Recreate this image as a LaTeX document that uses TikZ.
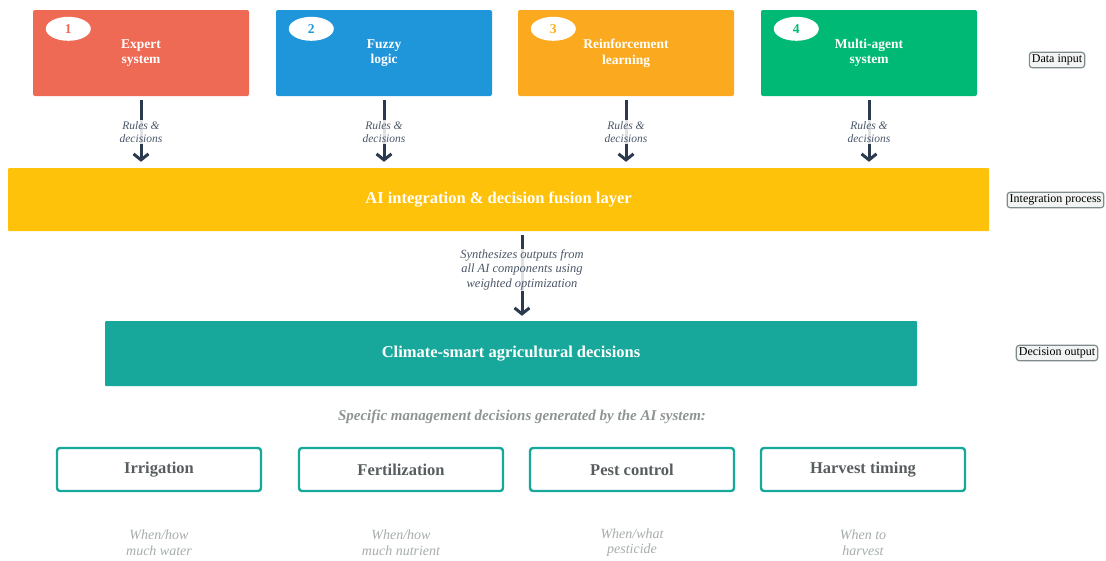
\documentclass[tikz,border=0pt]{standalone}
\usepackage{fontspec}
\setmainfont{Liberation Serif}
\usetikzlibrary{arrows.meta,positioning,shapes.geometric,calc}
\definecolor{coral}{HTML}{EE6A55}
\definecolor{azure}{HTML}{1F95DA}
\definecolor{amber}{HTML}{FBAA20}
\definecolor{jade}{HTML}{00B974}
\definecolor{gold}{HTML}{FFC20A}
\definecolor{lagoon}{HTML}{18A89B}
\definecolor{ink}{HTML}{2B3A4E}
\definecolor{slate}{HTML}{585E60}
\definecolor{muted}{HTML}{8E9494}
\definecolor{faint}{HTML}{A6ACAC}
\definecolor{tagline}{HTML}{7F8A8C}
\definecolor{tagfill}{HTML}{F2F3F3}
\tikzset{
  srcbox/.style={fill=#1,rounded corners=2pt,minimum width=216pt,minimum height=86pt,inner sep=0pt,text=white,align=center,font=\fontsize{13.5}{15.5}\selectfont\bfseries},
  badge/.style={ellipse,fill=white,text=#1,minimum width=45pt,minimum height=24pt,inner sep=0pt,font=\fontsize{13.5}{15}\selectfont\bfseries},
  band/.style={fill=#1,rounded corners=1pt,inner sep=0pt,text=white,font=\fontsize{16.5}{18}\selectfont\bfseries},
  flow/.style={draw=ink,line width=3pt,-{Straight Barb[length=6pt,width=15pt]}},
  flowlbl/.style={fill=white,fill opacity=0.85,text opacity=1,text=ink!85,inner sep=1pt,align=center,font=\fontsize{11.5}{13}\selectfont\itshape},
  outbox/.style={draw=lagoon,line width=2.4pt,fill=white,rounded corners=3pt,minimum width=204pt,minimum height=43pt,inner sep=0pt,text=slate,font=\fontsize{16.5}{18}\selectfont\bfseries},
  note/.style={text=faint,align=center,font=\fontsize{14}{15.5}\selectfont\itshape},
  tag/.style={draw=tagline,fill=tagfill,line width=1.2pt,rounded corners=3pt,inner xsep=2.5pt,inner ysep=2.5pt,text=black,font=\fontsize{12}{14}\selectfont},
}

\begin{document}
\begin{tikzpicture}[x=1pt,y=-1pt]
  \useasboundingbox (0,0) rectangle (1106,560);

  % the four AI components
  \foreach \i/\x/\c/\t in {1/141/coral/{Expert\\system},2/384/azure/{Fuzzy\\logic},3/626/amber/{Reinforcement\\learning},4/869/jade/{Multi-agent\\system}}{
    \node[srcbox=\c] (src\i) at (\x,53) {\t};
    \node[badge=\c] (num\i) at ($(src\i.north west)+(35.5,19)$) {\i};
  }

  % fusion layer and output
  \node[band=gold,minimum width=981pt,minimum height=63pt] (fusion) at (498.5,199.5) {AI integration \& decision fusion layer};
  \node[band=lagoon,minimum width=812pt,minimum height=65pt] (csad) at (511,353.5) {Climate-smart agricultural decisions};

  \foreach \i in {1,...,4}
    \draw[flow,shorten <=4pt,shorten >=6pt] (src\i.south) -- (src\i.south |- fusion.north)
      node[flowlbl,midway] (rd\i) {Rules \&\\decisions};

  \draw[flow,shorten <=4pt,shorten >=5pt] ([xshift=23.5pt]fusion.south) -- ([xshift=23.5pt]fusion.south |- csad.north)
    node[flowlbl,pos=0.43,font=\fontsize{12.5}{14.5}\selectfont\itshape] (syn) {Synthesizes outputs from\\all AI components using\\weighted optimization};

  \node[text=muted,font=\fontsize{15}{17}\selectfont\bfseries\itshape] (spec) at (522,417) {Specific management decisions generated by the AI system:};

  % management decisions
  \node[outbox] (irr) at (159,469.5) {Irrigation};
  \node[outbox] (fert) at (401,469.5) {Fertilization};
  \node[outbox] (pest) at (632,469.5) {Pest control};
  \node[outbox] (harv) at (863,469.5) {Harvest timing};

  \node[note] (irrn) at ($(irr)+(0,73)$) {When/how\\much water};
  \node[note] (fertn) at ($(fert)+(0,73)$) {When/how\\much nutrient};
  \node[note] (pestn) at ($(pest)+(0,73)$) {When/what\\pesticide};
  \node[note] (harvn) at ($(harv)+(0,73)$) {When to\\harvest};

  % stage tags on the right
  \node[tag] (tin) at (1057,60) {Data input};
  \node[tag] (tint) at (1055.5,200) {Integration process};
  \node[tag] (tout) at (1057,353) {Decision output};
\end{tikzpicture}
\end{document}
